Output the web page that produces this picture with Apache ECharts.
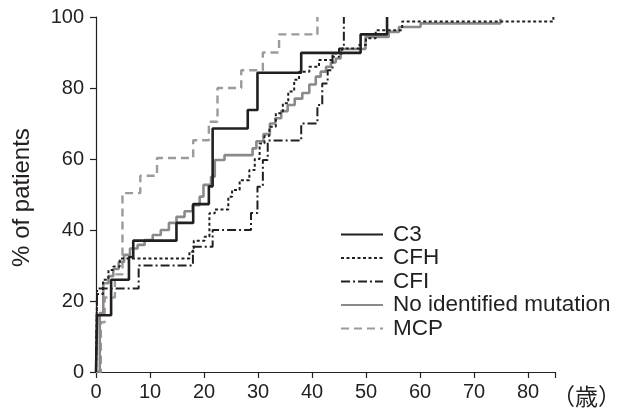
<!DOCTYPE html>
<html><head><meta charset="utf-8">
<script src="https://cdn.jsdelivr.net/npm/echarts@6/dist/echarts.min.js"></script>
<style>html,body{margin:0;padding:0;background:#fff}#c{width:624px;height:409px}</style>
</head><body><div id="c"></div>
<script>
// Data: [age (years), cumulative % of patients] step points
const seriesNames = ['C3', 'CFH', 'CFI', 'No identified mutation', 'MCP'];
const c3 = [[0,0],[0.2,16],[2.8,26],[6.1,32.4],[6.9,37],[14.9,42],[18.0,47.3],[20.9,52.3],[21.6,68.6],[28.1,73.8],[29.9,84.3],[38,89.9],[49,95.1],[53.9,100]];
const cfh = [[0,0],[0.2,22],[1.3,26],[2.3,28.7],[3.2,29.7],[4.4,32],[17.3,33.9],[18.1,37],[20.1,38.1],[21,44.7],[22,45.8],[24.5,49.4],[25.2,51.3],[26.6,54],[28.4,56.9],[29.4,60],[30.3,64.4],[31.2,66.5],[32.1,69.1],[33.3,72.9],[34.6,75.7],[35.6,79],[36.7,82.3],[37.6,84.6],[39.5,86],[41.3,87.9],[43.8,89.7],[45.6,91.1],[48.7,92.1],[50,94],[51.8,96.3],[56.7,98.7],[84.7,100]];
const cfi = [[0,0],[0.2,23.5],[7.9,30],[17.95,35.3],[21.6,40],[28.7,44.8],[29.9,52.2],[30.9,59.7],[31.8,65.2],[38,70],[41,75.2],[41.9,81.3],[42.9,85],[43.8,88.8],[45,91.1],[45.9,100]];
const noMutation = [[0,0],[0.7,16.6],[1.35,25],[2.3,27],[3.2,29],[4.2,31],[5.2,33],[6.3,34.8],[7.7,35.8],[9,37.2],[10.5,38.6],[12,40],[13.5,42],[14.9,43.7],[16.4,45.3],[17.9,47],[19.2,49.4],[19.9,52.7],[21.3,55],[22,59.7],[23.8,61.1],[29,63],[29.7,65],[31,67],[32.2,70],[33.2,71.5],[34.3,73.5],[35.5,75.2],[36.8,77],[38.2,78.6],[39.5,81],[40.7,83.2],[41.6,84.6],[42.6,86],[43.5,87.2],[44.4,88.3],[45.3,91],[49.9,94.4],[54.2,95.8],[56.1,97.2],[60.1,98.2],[74.9,99.5]];
const mcp = [[0,0],[0.9,14],[1.6,21],[3.5,27.5],[4.9,50.4],[8.2,55.3],[11.3,60.3],[18.0,65.3],[20.9,70.5],[22.5,80],[26.9,85],[30.9,90],[33.9,95.1],[41.0,100]];
const xTicks = [0,10,20,30,40,50,60,70,80];
const yTicks = [0,20,40,60,80,100];

const ink = '#231f20';
const font = '"Liberation Sans", Arial, sans-serif';
const chart = echarts.init(document.getElementById('c'), null, {renderer:'canvas'});
function mk(name, data, color, width, type){
  return {name, type:'line', step:'end', data, symbol:'none', showSymbol:false,
    lineStyle:{color, width, type}, itemStyle:{color}, animation:false};
}
chart.setOption({
  animation:false,
  grid:{left:96, right:68, top:17, bottom:37, containLabel:false},
  legend:{orient:'vertical', left:335, top:218, itemWidth:42, itemHeight:12, itemGap:0.5,
    itemStyle:{opacity:0},
    textStyle:{fontFamily:font, fontSize:22.5, lineHeight:22, color:ink, padding:[0,0,0,5]},
    data:seriesNames},
  xAxis:{type:'value', min:0, max:85, interval:10,
    axisLine:{lineStyle:{color:ink, width:1.2}},
    axisTick:{length:6, lineStyle:{color:ink, width:1.2}},
    axisLabel:{fontFamily:font, fontSize:20, color:ink, margin:10,
      formatter:v => xTicks.includes(v) ? String(v) : ''},
    splitLine:{show:false},
    name:'（歳）', nameLocation:'end', nameGap:-3,
    nameTextStyle:{fontFamily:'"Noto Sans CJK JP", sans-serif', fontSize:23, color:ink, verticalAlign:'top', padding:[13,0,0,0], align:'left'}
  },
  yAxis:{type:'value', min:0, max:100, interval:20,
    axisLine:{show:true, lineStyle:{color:ink, width:1.2}},
    axisTick:{show:true, length:6, lineStyle:{color:ink, width:1.2}},
    axisLabel:{fontFamily:font, fontSize:20, color:ink, margin:12,
      formatter:v => yTicks.includes(v) ? String(v) : ''},
    splitLine:{show:false},
    name:'% of patients', nameLocation:'middle', nameGap:62, nameRotate:90,
    nameTextStyle:{fontFamily:font, fontSize:24, color:ink, padding:[0,6,0,0]}
  },
  series:[
    mk('MCP', mcp, '#9b9b9b', 2.4, [8,5]),
    mk('No identified mutation', noMutation, '#8a8a8a', 2.6, 'solid'),
    mk('CFI', cfi, ink, 2, [9,3,2,3]),
    mk('CFH', cfh, ink, 2, [3,2.5]),
    mk('C3', c3, ink, 2.6, 'solid')
  ]
});
</script></body></html>
